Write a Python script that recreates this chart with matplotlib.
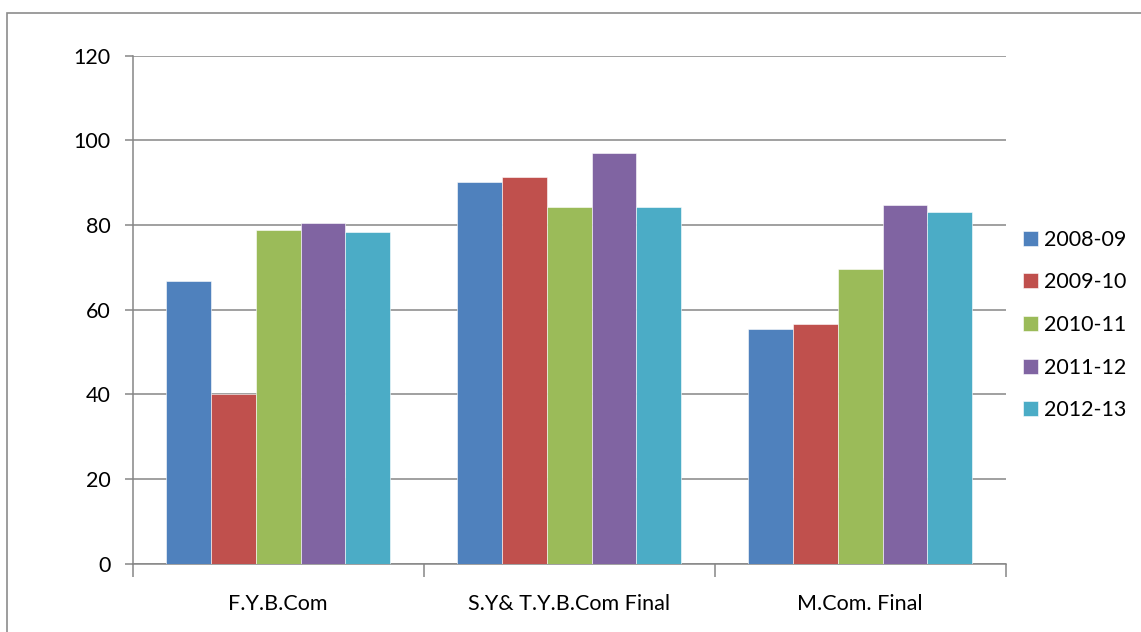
import numpy as np
import matplotlib

matplotlib.use("Agg")

import matplotlib.pyplot as plt
from matplotlib.patches import Rectangle

plt.rcParams["font.family"] = ["Lato", "DejaVu Sans"]

categories = ["F.Y.B.Com", "S.Y& T.Y.B.Com Final", "M.Com. Final"]
years = ["2008-09", "2009-10", "2010-11", "2011-12", "2012-13"]

# one list per academic year, values per category
v_2008_09 = [66.7, 90.2, 55.5]
v_2009_10 = [40.2, 91.3, 56.7]
v_2010_11 = [78.9, 84.2, 69.5]
v_2011_12 = [80.4, 97.1, 84.7]
v_2012_13 = [78.4, 84.3, 83.1]

series = [v_2008_09, v_2009_10, v_2010_11, v_2011_12, v_2012_13]
colors = ["#4F81BD", "#C0504D", "#9BBB59", "#8064A2", "#4BACC6"]

W, H = 1141, 632
fig = plt.figure(figsize=(W / 100, H / 100), dpi=100)
ax = fig.add_axes([132.7 / W, 1 - 563.7 / H, (1005.7 - 132.7) / W, (563.7 - 55.7) / H])

grid_c = "#868686"
bar_w = 0.1536
x = np.arange(len(categories))

for j, (vals, col, lab) in enumerate(zip(series, colors, years)):
    ax.bar(x + (j - 2) * bar_w, vals, width=bar_w, color=col, label=lab,
           edgecolor="white", linewidth=0.4, zorder=3)

ax.set_xlim(-0.5, len(categories) - 0.5)
ax.set_ylim(0, 120)
ax.set_yticks(np.arange(0, 121, 20))
ax.yaxis.grid(True, color=grid_c, linewidth=1.1)
ax.set_axisbelow(True)

for s in ["top", "right"]:
    ax.spines[s].set_visible(False)
for s in ["left", "bottom"]:
    ax.spines[s].set_color(grid_c)
    ax.spines[s].set_linewidth(1.1)

ax.tick_params(axis="y", length=6, width=1.1, color=grid_c, labelsize=15.5, pad=10)

# category labels centred, ticks at category boundaries
ax.set_xticks(x)
ax.set_xticklabels(categories)
ax.set_xticks(np.arange(-0.5, len(categories), 1.0), minor=True)
ax.tick_params(axis="x", which="major", length=0, labelsize=15.5, pad=22)
ax.tick_params(axis="x", which="minor", length=9, width=1.1, color=grid_c)

ax.legend(loc="center left", bbox_to_anchor=(1022.7 / W, 1 - 325 / H),
          bbox_transform=fig.transFigure, frameon=False, fontsize=15.5,
          handlelength=0.7, handleheight=0.7, handletextpad=0.3,
          labelspacing=1.05, borderpad=0, borderaxespad=0)

# outer chart frame (only top and left edges visible in the crop)
fig.patches.append(Rectangle((7 / W, -0.1), 1.2, 1 - 13 / H + 0.1,
                             transform=fig.transFigure, fill=False,
                             edgecolor="#8c8c8c", linewidth=1.2))

fig.savefig("out.png", dpi=100)
plt.close(fig)
